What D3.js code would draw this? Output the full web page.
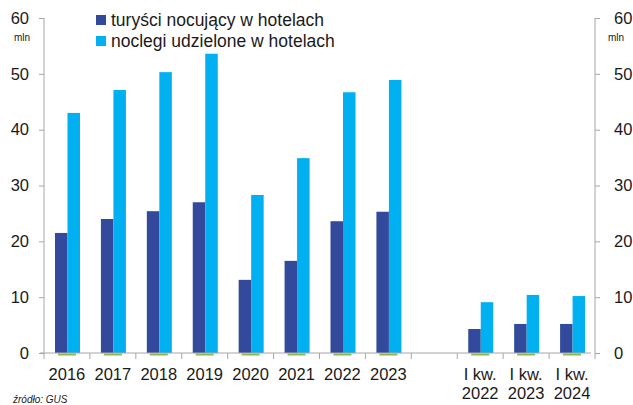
<!DOCTYPE html>
<html>
<head>
<meta charset="utf-8">
<script src="https://cdn.jsdelivr.net/npm/d3@7"></script>
<style>
  body { margin: 0; background: #fff; }
  svg { display: block; font-family: "Liberation Sans", Arial, sans-serif; }
</style>
</head>
<body>
<svg id="chart" width="633" height="405"></svg>
<script>
const categories = ["2016", "2017", "2018", "2019", "2020", "2021", "2022", "2023", "", "I kw.|2022", "I kw.|2023", "I kw.|2024"];
const turysci = [21.5, 24.0, 25.4, 27.0, 13.1, 16.5, 23.6, 25.3, null, 4.3, 5.2, 5.2];
const noclegi = [43.0, 47.1, 50.3, 53.6, 28.3, 34.9, 46.7, 48.9, null, 9.1, 10.4, 10.2];
const inne = [0, 0, 0, 0, 0, 0, 0, 0, null, 0, 0, 0];
const yTicks = [0, 10, 20, 30, 40, 50, 60];
const seriesNames = ["turyści nocujący w hotelach", "noclegi udzielone w hotelach"];

const colours = { dark: "#334a9c", light: "#00b0f0", green: "#8fb84a", axis: "#a6a6a6", text: "#1a1a1a" };
const margins = { left: 44, right: 38, top: 18, bottom: 52 };
const W = 633, H = 405;

const svg = d3.select("#chart");

const x = d3.scaleBand().domain(categories).range([margins.left, W - margins.right]);
const x1 = d3.scaleBand().domain([0, 1]).range([11, 36]);
const y = d3.scaleLinear().domain([0, 60]).range([H - margins.bottom, margins.top]);

const rows = categories.map((c, i) => ({ c, vals: [turysci[i], noclegi[i]], g: inne[i] }));

// bars
const groups = svg.append("g").selectAll("g").data(rows).join("g")
  .attr("transform", (d) => `translate(${x(d.c)},0)`);
groups.selectAll("rect").data((d) => d.vals.map((v, k) => ({ v, k })).filter((e) => e.v != null))
  .join("rect")
  .attr("x", (d) => x1(d.k))
  .attr("width", x1.bandwidth())
  .attr("y", (d) => y(d.v))
  .attr("height", (d) => y(0) - y(d.v))
  .attr("fill", (d) => (d.k === 0 ? colours.dark : colours.light));

// green zero-level markers
svg.append("g").selectAll("line").data(rows.filter((d) => d.g != null)).join("line")
  .attr("x1", (d) => x(d.c) + x.bandwidth() / 2 - 9)
  .attr("x2", (d) => x(d.c) + x.bandwidth() / 2 + 9)
  .attr("y1", (d) => y(d.g) + 1.5)
  .attr("y2", (d) => y(d.g) + 1.5)
  .attr("stroke", colours.green)
  .attr("stroke-width", 2);

// axes
const leftAxis = svg.append("g").attr("transform", `translate(${margins.left},0)`)
  .call(d3.axisLeft(y).tickValues(yTicks).tickSize(5).tickPadding(10).tickFormat(d3.format("d")));
const rightAxis = svg.append("g").attr("transform", `translate(${W - margins.right},0)`)
  .call(d3.axisRight(y).tickValues(yTicks).tickSize(5).tickPadding(14).tickFormat(d3.format("d")));
const bottomAxis = svg.append("g").attr("transform", `translate(0,${y(0)})`)
  .call(d3.axisBottom(x).tickSize(0).tickFormat(""));

[leftAxis, rightAxis, bottomAxis].forEach((a) => {
  a.select(".domain").attr("stroke", colours.axis);
  a.selectAll(".tick line").attr("stroke", colours.axis);
  a.selectAll("text").attr("fill", colours.text).style("font-size", "16.5px")
    .style("font-family", '"Liberation Sans", Arial, sans-serif');
});
leftAxis.select(".domain").attr("d", `M0,${y(60)}V${y(0)}`);
rightAxis.select(".domain").attr("d", `M0,${y(60)}V${y(0)}`);
bottomAxis.select(".domain").attr("d", `M0,0H${W - margins.right - margins.left}`).attr("transform", `translate(${margins.left - 4},0)`);

// category boundary ticks
bottomAxis.append("g").selectAll("line")
  .data(categories.map((c) => x(c)).concat([W - margins.right]))
  .join("line")
  .attr("x1", (d) => d).attr("x2", (d) => d)
  .attr("y1", 0).attr("y2", 6)
  .attr("stroke", colours.axis);

// category labels
const labels = svg.append("g").selectAll("text").data(categories).join("text")
  .attr("x", (d) => x(d) + x.bandwidth() / 2)
  .attr("y", 380)
  .attr("text-anchor", "middle")
  .attr("fill", colours.text)
  .style("font-size", "16.5px");
labels.selectAll("tspan").data((d) => d.split("|")).join("tspan")
  .attr("x", function () { return d3.select(this.parentNode).attr("x"); })
  .attr("dy", (d, i) => (i === 0 ? 0 : 19))
  .text((d) => d);

// unit labels
svg.append("text").attr("x", 22).attr("y", 41).attr("text-anchor", "middle")
  .attr("fill", colours.text).style("font-size", "10px").text("mln");
svg.append("text").attr("x", 616).attr("y", 41).attr("text-anchor", "middle")
  .attr("fill", colours.text).style("font-size", "10px").text("mln");

// legend
const legend = svg.append("g").selectAll("g").data(seriesNames).join("g")
  .attr("transform", (d, i) => `translate(96,${15 + i * 21})`);
legend.append("rect").attr("width", 10).attr("height", 10)
  .attr("fill", (d, i) => (i === 0 ? colours.dark : colours.light));
legend.append("text").attr("x", 15).attr("y", 11)
  .attr("fill", colours.text).style("font-size", "17.5px").text((d) => d);

// source
svg.append("text").attr("x", 13).attr("y", 403)
  .attr("fill", colours.text).style("font-size", "10px").style("font-style", "italic")
  .text("źródło: GUS");
</script>
</body>
</html>
